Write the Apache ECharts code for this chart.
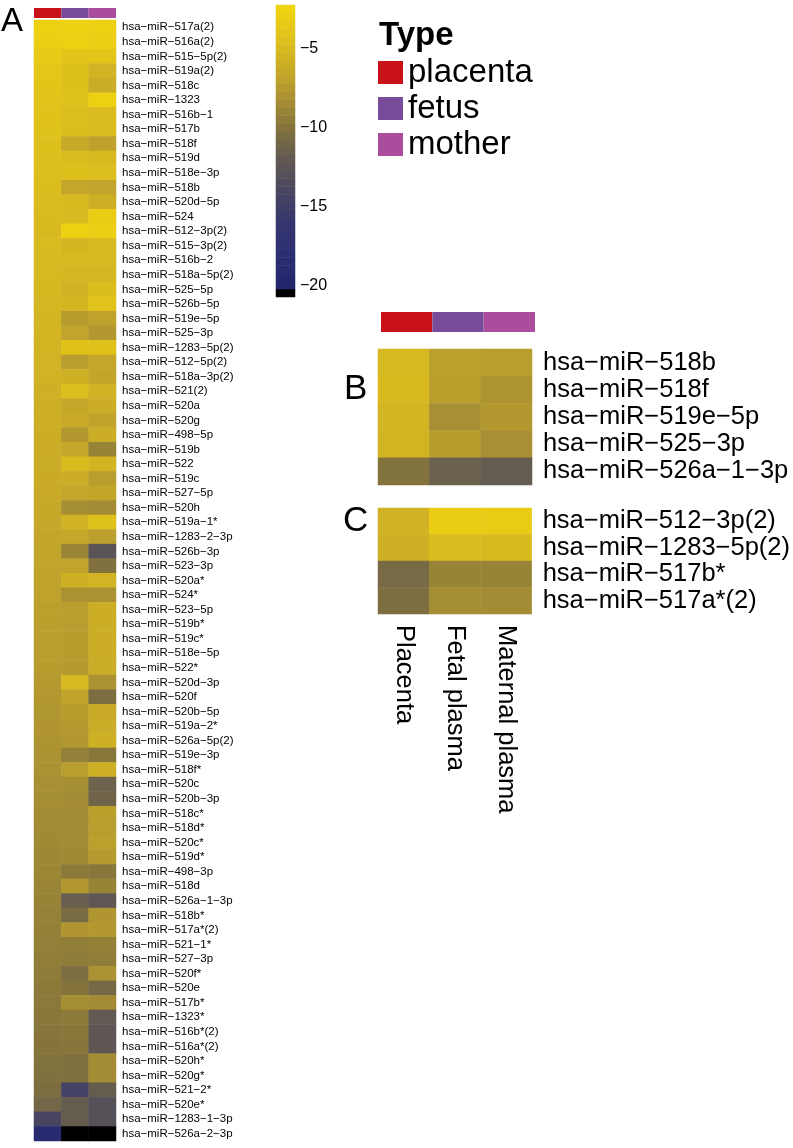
<!DOCTYPE html>
<html>
<head>
<meta charset="utf-8">
<script src="https://cdn.jsdelivr.net/npm/echarts@6/dist/echarts.min.js"></script>
<style>
html,body{margin:0;padding:0;background:#fff;}
#chart{width:793px;height:1148px;}
</style>
</head>
<body>
<div id="chart"></div>
<script>
// ---------- DATA ----------
const typeNames = ['placenta', 'fetus', 'mother'];
const typeColors = ['#C9111A', '#784C9A', '#A94D9C'];
const sampleColumns = ['Placenta', 'Fetal plasma', 'Maternal plasma'];

const rowsA = ['hsa-miR-517a(2)','hsa-miR-516a(2)','hsa-miR-515-5p(2)','hsa-miR-519a(2)','hsa-miR-518c','hsa-miR-1323','hsa-miR-516b-1','hsa-miR-517b','hsa-miR-518f','hsa-miR-519d','hsa-miR-518e-3p','hsa-miR-518b','hsa-miR-520d-5p','hsa-miR-524','hsa-miR-512-3p(2)','hsa-miR-515-3p(2)','hsa-miR-516b-2','hsa-miR-518a-5p(2)','hsa-miR-525-5p','hsa-miR-526b-5p','hsa-miR-519e-5p','hsa-miR-525-3p','hsa-miR-1283-5p(2)','hsa-miR-512-5p(2)','hsa-miR-518a-3p(2)','hsa-miR-521(2)','hsa-miR-520a','hsa-miR-520g','hsa-miR-498-5p','hsa-miR-519b','hsa-miR-522','hsa-miR-519c','hsa-miR-527-5p','hsa-miR-520h','hsa-miR-519a-1*','hsa-miR-1283-2-3p','hsa-miR-526b-3p','hsa-miR-523-3p','hsa-miR-520a*','hsa-miR-524*','hsa-miR-523-5p','hsa-miR-519b*','hsa-miR-519c*','hsa-miR-518e-5p','hsa-miR-522*','hsa-miR-520d-3p','hsa-miR-520f','hsa-miR-520b-5p','hsa-miR-519a-2*','hsa-miR-526a-5p(2)','hsa-miR-519e-3p','hsa-miR-518f*','hsa-miR-520c','hsa-miR-520b-3p','hsa-miR-518c*','hsa-miR-518d*','hsa-miR-520c*','hsa-miR-519d*','hsa-miR-498-3p','hsa-miR-518d','hsa-miR-526a-1-3p','hsa-miR-518b*','hsa-miR-517a*(2)','hsa-miR-521-1*','hsa-miR-527-3p','hsa-miR-520f*','hsa-miR-520e','hsa-miR-517b*','hsa-miR-1323*','hsa-miR-516b*(2)','hsa-miR-516a*(2)','hsa-miR-520h*','hsa-miR-520g*','hsa-miR-521-2*','hsa-miR-520e*','hsa-miR-1283-1-3p','hsa-miR-526a-2-3p'];

const placentaA = [-2.8,-3.0,-3.4,-3.7,-3.9,-4.1,-4.2,-4.3,-4.4,-4.5,-4.6,-4.7,-4.8,-4.9,-5.0,-5.05,-5.1,-5.2,-5.25,-5.3,-5.4,-5.45,-5.5,-5.6,-5.7,-5.8,-5.9,-5.95,-6.0,-6.1,-6.2,-6.25,-6.3,-6.4,-6.5,-6.6,-6.7,-6.8,-6.9,-7.0,-7.1,-7.2,-7.25,-7.3,-7.4,-7.5,-7.6,-7.7,-7.8,-7.9,-8.0,-8.1,-8.2,-8.3,-8.4,-8.5,-8.6,-8.7,-8.8,-8.9,-9.0,-9.1,-9.2,-9.3,-9.4,-9.5,-9.6,-9.7,-9.8,-9.9,-10.0,-10.1,-10.2,-10.4,-10.9,-14.1,-18.8];
const fetusA = [-2.7,-2.8,-3.9,-4.4,-4.4,-4.3,-4.6,-4.7,-6.4,-4.8,-4.4,-6.6,-5.0,-5.1,-2.8,-5.4,-5.2,-5.3,-5.7,-5.4,-7.4,-6.8,-4.2,-7.3,-5.8,-4.6,-6.5,-6.3,-7.6,-6.5,-4.9,-6.1,-6.6,-8.3,-5.7,-6.5,-8.9,-6.8,-5.8,-8.1,-7.3,-7.3,-7.4,-7.4,-7.5,-5.1,-6.9,-7.4,-7.5,-7.6,-9.3,-7.3,-8.3,-8.4,-8.4,-8.5,-8.5,-8.6,-9.6,-7.6,-11.6,-10.6,-7.8,-9.4,-9.5,-10.4,-10.0,-8.3,-9.6,-9.8,-9.9,-10.2,-10.3,-14.6,-11.8,-11.8,-21.0];
const motherA = [-2.8,-3.0,-3.9,-5.6,-6.2,-2.8,-4.9,-4.8,-7.0,-5.0,-4.6,-6.8,-5.9,-3.2,-3.0,-5.1,-5.2,-5.3,-4.7,-4.1,-7.0,-7.6,-4.2,-6.6,-6.7,-5.7,-6.1,-6.9,-6.1,-9.0,-5.5,-7.3,-6.7,-8.4,-4.3,-7.1,-12.6,-10.2,-5.6,-8.1,-6.0,-6.0,-6.1,-6.1,-6.2,-8.0,-10.4,-6.3,-6.2,-5.8,-9.8,-5.9,-11.3,-11.2,-7.2,-7.3,-7.1,-7.5,-9.8,-9.0,-12.3,-7.8,-7.6,-9.2,-9.4,-8.0,-10.8,-8.5,-12.0,-12.4,-12.4,-8.4,-8.4,-11.8,-13.0,-13.0,-21.0];

const rowsB = ['hsa-miR-518b','hsa-miR-518f','hsa-miR-519e-5p','hsa-miR-525-3p','hsa-miR-526a-1-3p'];
const placentaB = [-5.2,-5.0,-5.4,-5.5,-10.1];
const fetusB = [-7.1,-7.2,-8.2,-7.4,-11.4];
const motherB = [-7.3,-7.9,-7.6,-8.2,-11.9];

const rowsC = ['hsa-miR-512-3p(2)','hsa-miR-1283-5p(2)','hsa-miR-517b*','hsa-miR-517a*(2)'];
const placentaC = [-5.7,-5.8,-10.7,-10.4];
const fetusC = [-3.2,-4.8,-9.0,-8.3];
const motherC = [-3.3,-5.0,-9.0,-8.4];

const colorbarSteps = [-20.5,-20,-19.5,-19,-18.5,-18,-17.5,-17,-16.5,-16,-15.5,-15,-14.5,-14,-13.5,-13,-12.5,-12,-11.5,-11,-10.5,-10,-9.5,-9,-8.5,-8,-7.5,-7,-6.5,-6,-5.5,-5,-4.5,-4,-3.5,-3,-2.5];
const colorbarTicks = [-20, -15, -10, -5];

// ---------- STYLE HELPERS ----------
const colorStops = [
  [-21,'#000000'],[-20.3,'#000000'],[-20.1,'#24266c'],[-18,'#2c2e72'],[-16,'#36366e'],
  [-15,'#403f68'],[-14,'#4a4660'],[-13,'#565058'],[-12,'#625a52'],[-11,'#726648'],
  [-10,'#84743c'],[-9,'#988436'],[-8,'#ac9232'],[-7,'#bea22c'],[-6,'#ccae26'],
  [-5,'#d8ba20'],[-4,'#e2c41a'],[-3,'#ecce14'],[-2,'#f4d80c']
];
const VMIN = -21, VMAX = -2;
function hex2rgb(h){return [parseInt(h.substr(1,2),16),parseInt(h.substr(3,2),16),parseInt(h.substr(5,2),16)];}
function colorAt(v){
  for(let i=0;i<colorStops.length-1;i++){
    const a=colorStops[i], b=colorStops[i+1];
    if(v>=a[0] && v<=b[0]){
      const t=(v-a[0])/(b[0]-a[0]); const ca=hex2rgb(a[1]), cb=hex2rgb(b[1]);
      const c=ca.map((x,k)=>Math.round(x+(cb[k]-x)*t));
      return 'rgb('+c.join(',')+')';
    }
  }
  return colorStops[colorStops.length-1][1];
}
const paletteSamples = [];
for(let v=VMIN; v<=VMAX+1e-9; v+=0.1){ paletteSamples.push(colorAt(v)); }

const minus = s => String(s).replace(/-/g, '\u2212');

function cells(p, f, m){
  const out=[];
  for(let i=0;i<p.length;i++){ out.push([0,i,p[i]]); out.push([1,i,f[i]]); out.push([2,i,m[i]]); }
  return out;
}

const FONT = 'Liberation Sans, Arial, Helvetica, sans-serif';
const hiddenCat = (gi, data) => ({type:'category', gridIndex:gi, data:data, show:false});

function typeBars(xi, yi){
  return typeNames.map((n,k)=>({
    type:'bar', name:n, xAxisIndex:xi, yAxisIndex:yi, stack:'type'+xi,
    barWidth:'100%', itemStyle:{color:typeColors[k]},
    data: typeNames.map((_,j)=> j===k ? 1 : '-'),
    silent:true
  }));
}

const chart = echarts.init(document.getElementById('chart'), null, {renderer:'canvas'});
const option = {
  animation:false,
  backgroundColor:'#ffffff',
  textStyle:{fontFamily:FONT, color:'#000'},
  title:[
    {text:'A', left:1, top:5, padding:0, textStyle:{fontSize:33, fontWeight:'normal', color:'#000', fontFamily:FONT}},
    {text:'B', left:344, top:372, padding:0, textStyle:{fontSize:35, fontWeight:'normal', color:'#000', fontFamily:FONT}},
    {text:'C', left:343, top:504, padding:0, textStyle:{fontSize:35, fontWeight:'normal', color:'#000', fontFamily:FONT}},
    {text:'Type', left:379, top:19, padding:0, textStyle:{fontSize:33, fontWeight:'bold', color:'#000', fontFamily:FONT}}
  ],
  legend:{
    data:typeNames, left:378, top:56, orient:'vertical', icon:'rect',
    itemWidth:25, itemHeight:23, itemGap:3, padding:0, selectedMode:false,
    textStyle:{fontSize:33, color:'#000', fontFamily:FONT}
  },
  visualMap:{
    type:'continuous', show:false, min:VMIN, max:VMAX, seriesIndex:[3,4,8,9],
    inRange:{color:paletteSamples}
  },
  grid:[
    {left:34, top:8, width:82, height:10},
    {left:34, top:20, width:82, height:1121},
    {left:276, top:5, width:19, height:292},
    {left:381, top:312, width:154, height:20},
    {left:378, top:349, width:154, height:136},
    {left:378, top:508, width:154, height:106}
  ],
  xAxis:[
    hiddenCat(0, typeNames),
    hiddenCat(1, sampleColumns),
    hiddenCat(2, ['scale']),
    hiddenCat(3, typeNames),
    hiddenCat(4, sampleColumns),
    {type:'category', gridIndex:5, data:sampleColumns, position:'bottom',
      axisLine:{show:false}, axisTick:{show:false}, splitLine:{show:false},
      axisLabel:{rotate:-90, fontSize:25.5, margin:11, color:'#000', fontFamily:FONT, interval:0}}
  ],
  yAxis:[
    {type:'value', gridIndex:0, min:0, max:1, show:false},
    {type:'category', gridIndex:1, data:rowsA, inverse:true, position:'right',
      axisLine:{show:false}, axisTick:{show:false},
      axisLabel:{fontSize:11.5, margin:6, color:'#000', interval:0, fontFamily:FONT, formatter:minus}},
    {type:'category', gridIndex:2, data:colorbarSteps.map(String), show:false, position:'left'},
    {type:'value', gridIndex:2, min:-20.75, max:-2.25, position:'right',
      axisLine:{show:false}, axisTick:{show:false}, splitLine:{show:false},
      axisLabel:{customValues:colorbarTicks, fontSize:16, margin:5, color:'#000', fontFamily:FONT, formatter:minus}},
    {type:'value', gridIndex:3, min:0, max:1, show:false},
    {type:'category', gridIndex:4, data:rowsB, inverse:true, position:'right',
      axisLine:{show:false}, axisTick:{show:false},
      axisLabel:{fontSize:25.5, margin:11, color:'#000', interval:0, fontFamily:FONT, formatter:minus}},
    {type:'category', gridIndex:5, data:rowsC, inverse:true, position:'right',
      axisLine:{show:false}, axisTick:{show:false},
      axisLabel:{fontSize:25.5, margin:11, color:'#000', interval:0, fontFamily:FONT, formatter:minus}}
  ],
  series:[
    ...typeBars(0,0),
    {type:'heatmap', xAxisIndex:1, yAxisIndex:1, data:cells(placentaA, fetusA, motherA), silent:true, itemStyle:{borderWidth:0}},
    {type:'heatmap', xAxisIndex:2, yAxisIndex:2, data:colorbarSteps.map((v,i)=>[0,i,v]), silent:true},
    ...typeBars(3,4),
    {type:'heatmap', xAxisIndex:4, yAxisIndex:5, data:cells(placentaB, fetusB, motherB), silent:true},
    {type:'heatmap', xAxisIndex:5, yAxisIndex:6, data:cells(placentaC, fetusC, motherC), silent:true}
  ]
};
chart.setOption(option);
</script>
</body>
</html>
